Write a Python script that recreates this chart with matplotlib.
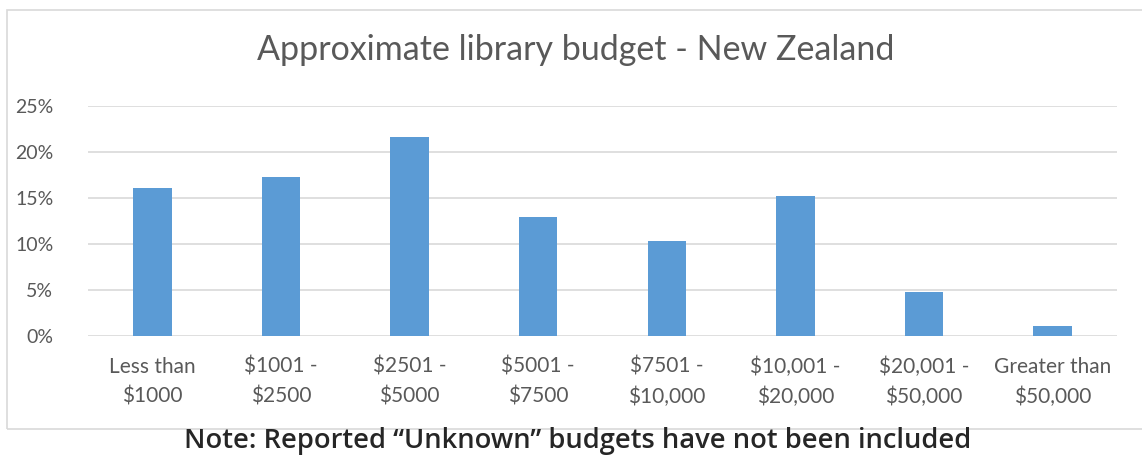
import numpy as np
import matplotlib.pyplot as plt
from matplotlib.patches import Rectangle
from matplotlib.ticker import PercentFormatter

categories = ["Less than\n$1000", "$1001 -\n$2500", "$2501 -\n$5000", "$5001 -\n$7500",
              "$7501 -\n$10,000", "$10,001 -\n$20,000", "$20,001 -\n$50,000", "Greater than\n$50,000"]
shares = [16.1, 17.3, 21.6, 12.9, 10.3, 15.2, 4.8, 1.1]
yticks = [0, 5, 10, 15, 20, 25]

W, H = 1142, 457
fig = plt.figure(figsize=(W / 100, H / 100), dpi=100)

# chart border (cut off at right edge, like the screenshot)
fig.patches.append(Rectangle((7 / W, 1 - 429 / H), 1.2, (429 - 10) / H,
                             transform=fig.transFigure, fill=False,
                             edgecolor="#d9d9d9", lw=1.2))

ax = fig.add_axes([88 / W, 1 - 336 / H, (1117 - 88) / W, (336 - 106) / H])
x = np.arange(len(categories))
ax.bar(x, shares, width=0.3, color="#5b9bd5", zorder=3)
ax.set_xlim(-0.5, len(categories) - 0.5)
ax.set_ylim(0, 25)
ax.set_yticks(yticks)
ax.yaxis.set_major_formatter(PercentFormatter(decimals=0))
ax.set_xticks(x)
ax.set_xticklabels(categories, fontsize=15, color="#595959", family="Lato", linespacing=1.6)
for lab in ax.get_yticklabels():
    lab.set_fontsize(14)
    lab.set_color("#595959")
    lab.set_family("Lato")
ax.tick_params(axis="y", length=0, pad=25)
ax.tick_params(axis="x", length=0, pad=15)
ax.grid(axis="y", color="#d9d9d9", lw=1.2, zorder=0)
for s in ax.spines.values():
    s.set_visible(False)

fig.text(576 / W, 1 - 50 / H, "Approximate library budget - New Zealand",
         ha="center", va="center", fontsize=24.5, color="#595959", family="Lato")
fig.text(578 / W, 1 - 441 / H, "Note: Reported \u201cUnknown\u201d budgets have not been included",
         ha="center", va="center", fontsize=19.7, color="#262626",
         family="Open Sans", fontweight="semibold")

fig.savefig("out.png", dpi=100)
